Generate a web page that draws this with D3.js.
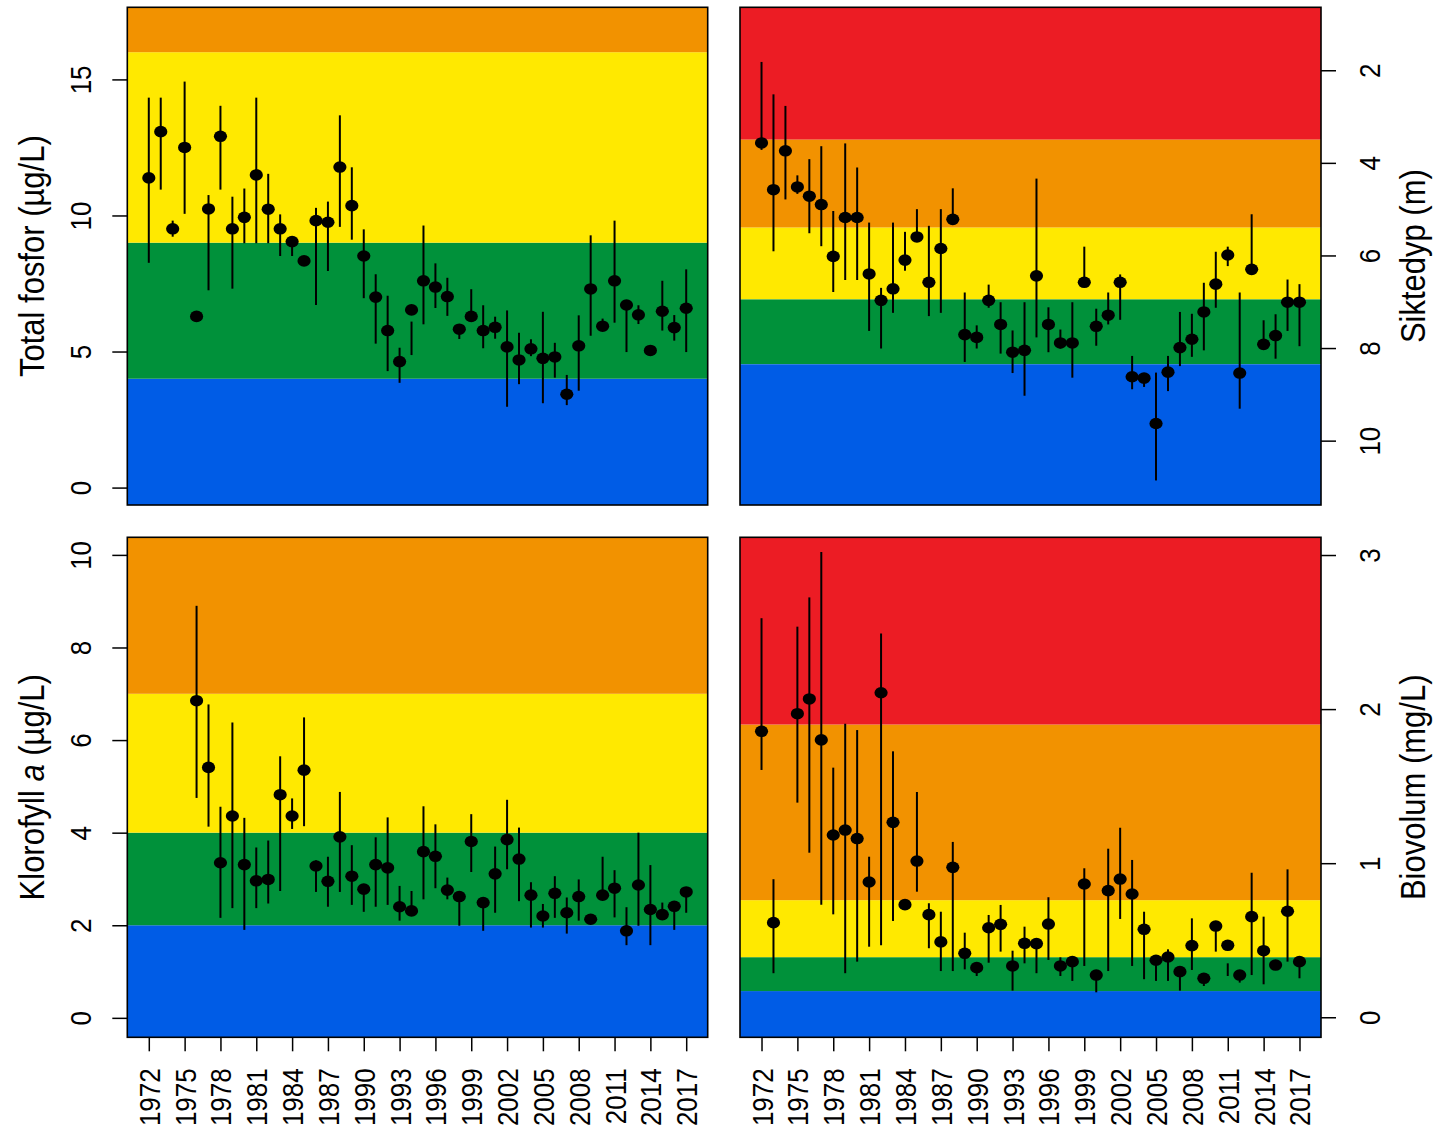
<!DOCTYPE html>
<html>
<head>
<meta charset="utf-8">
<script src="https://cdn.jsdelivr.net/npm/d3@7"></script>
<style>
  body { margin: 0; background: #fff; }
  text { font-family: "Liberation Sans", Arial, sans-serif; fill: #000; }
</style>
</head>
<body>
<svg id="chart" width="1436" height="1128"></svg>
<script>
// years and tick labels
var years = d3.range(1972, 2018);
var yearTicks = d3.range(1972, 2018, 3);

// Total fosfor (ug/L)
var tpMean = [11.38, 13.08, 9.51, 12.5, 6.29, 10.24, 12.91, 9.51, 9.93, 11.49,
  10.23, 9.51, 9.04, 8.33, 9.81, 9.75, 11.78, 10.36, 8.51, 7.0,
  5.77, 4.63, 6.53, 7.6, 7.37, 7.02, 5.82, 6.29, 5.77, 5.89,
  5.17, 4.69, 5.1, 4.75, 4.8, 3.43, 5.21, 7.3, 5.93, 7.6,
  6.71, 6.35, 5.04, 6.48, 5.88, 6.59];
var tpLo = [8.26, 10.95, 9.22, 10.06, null, 7.25, 10.95, 7.31, 8.98, 8.98,
  8.98, 8.51, 8.51, null, 6.71, 7.96, 9.58, 9.11, 6.96, 5.29,
  4.28, 3.85, 4.87, 6.0, 6.6, 6.31, 5.46, 6.1, 5.12, 5.47,
  2.97, 3.8, 4.83, 3.1, 4.04, 3.03, 3.56, 5.58, 5.9, 6.06,
  4.98, 6.01, null, 5.77, 5.4, 4.98];
var tpHi = [14.33, 14.33, 9.81, 14.92, null, 10.75, 14.03, 10.69, 10.99, 14.33,
  11.53, 10.04, 9.1, null, 10.28, 10.51, 13.68, 11.77, 9.49, 7.84,
  7.05, 5.14, 6.1, 9.63, 8.24, 7.71, 5.9, 7.29, 6.7, 6.28,
  6.51, 5.69, 5.45, 6.46, 5.32, 4.14, 6.33, 9.27, 6.21, 9.81,
  6.8, 6.7, null, 7.6, 6.34, 8.02];

// Siktedyp (m)
var siktMean = [3.57, 4.58, 3.74, 4.52, 4.72, 4.9, 6.02, 5.18, 5.18, 6.4,
  6.97, 6.72, 6.1, 5.6, 6.58, 5.85, 5.22, 7.71, 7.77, 6.97,
  7.49, 8.09, 8.05, 6.44, 7.49, 7.89, 7.89, 6.58, 7.53, 7.29,
  6.58, 8.62, 8.65, 9.63, 8.52, 7.99, 7.81, 7.22, 6.62, 5.99,
  8.54, 6.3, 7.92, 7.73, 7.01, 7.01];
var siktLo = [1.82, 2.52, 2.77, 4.27, 3.92, 3.64, 5.04, 3.58, 4.1, 5.29,
  6.7, 5.29, 5.49, 5.0, 5.36, 5.0, 4.55, 6.8, 7.51, 6.63,
  7.01, 7.62, 7.01, 4.34, 7.12, 7.6, 7.01, 5.81, 7.15, 6.8,
  6.41, 8.17, 8.6, 8.53, 8.17, 7.22, 7.26, 6.59, 5.92, 5.81,
  6.8, 5.11, 7.4, 7.27, 6.52, 6.62];
var siktHi = [3.72, 5.91, 4.79, 4.67, 5.52, 5.8, 6.79, 6.53, 6.53, 7.63,
  8.01, 7.24, 6.33, 5.65, 7.31, 7.24, 5.25, 8.3, 8.01, 7.13,
  8.12, 8.54, 9.03, 7.77, 8.09, 8.01, 8.64, 6.65, 7.95, 7.49,
  7.39, 8.89, 8.84, 10.86, 8.93, 8.39, 8.19, 8.05, 7.13, 6.23,
  9.31, 6.35, 8.0, 8.23, 7.63, 7.96];

// Klorofyll a (ug/L)
var chlMean = [null, null, null, null, 6.85, 5.41, 3.35, 4.36, 3.31, 2.96,
  2.99, 4.82, 4.36, 5.35, 3.28, 2.95, 3.91, 3.06, 2.78, 3.31,
  3.24, 2.4, 2.31, 3.59, 3.49, 2.76, 2.62, 3.81, 2.49, 3.11,
  3.85, 3.43, 2.65, 2.2, 2.69, 2.27, 2.62, 2.13, 2.65, 2.8,
  1.88, 2.87, 2.34, 2.23, 2.41, 2.72];
var chlLo = [null, null, null, null, 4.75, 4.13, 2.16, 2.37, 1.9, 2.37,
  2.47, 2.74, 4.08, 4.14, 2.72, 2.4, 2.72, 2.44, 2.29, 2.4,
  2.44, 2.1, 2.25, 2.56, 2.8, 2.56, 1.99, 3.15, 1.88, 2.27,
  3.21, 2.52, 1.95, 1.95, 2.16, 1.82, 2.1, null, 2.6, 2.17,
  1.57, 1.99, 1.57, 2.2, 1.9, 2.27];
var chlHi = [null, null, null, null, 8.9, 6.77, 4.56, 6.38, 4.32, 3.68,
  3.83, 5.65, 4.74, 6.49, 3.4, 3.48, 4.88, 3.73, 2.85, 3.9,
  4.33, 2.85, 2.74, 4.57, 4.18, 3.03, 2.7, 4.4, 2.55, 3.7,
  4.71, 4.11, 2.93, 2.46, 3.06, 2.6, 2.99, null, 3.48, 3.19,
  2.39, 4.0, 3.3, 2.49, 2.45, 2.8];

// Biovolum (mg/L)
var bioMean = [1.856, 0.614, null, 1.97, 2.066, 1.8, 1.183, 1.215, 1.16, 0.878,
  2.106, 1.265, 0.731, 1.014, 0.666, 0.489, 0.973, 0.415, 0.322, 0.581,
  0.603, 0.333, 0.48, 0.478, 0.605, 0.333, 0.361, 0.865, 0.274, 0.822,
  0.897, 0.8, 0.571, 0.37, 0.391, 0.296, 0.465, 0.253, 0.592, 0.467,
  0.274, 0.653, 0.432, 0.339, 0.688, 0.361];
var bioLo = [1.605, 0.286, null, 1.393, 1.068, 0.731, 0.668, 0.286, 0.361, 0.458,
  0.467, 0.625, null, 0.815, 0.448, 0.3, 0.3, 0.311, 0.268, 0.354,
  0.426, 0.173, 0.35, 0.286, 0.372, 0.268, 0.236, 0.333, 0.162, 0.3,
  0.638, 0.333, 0.247, 0.236, 0.236, 0.173, 0.307, 0.203, 0.426, 0.268,
  0.225, 0.274, 0.214, null, 0.361, 0.253];
var bioHi = [2.59, 0.896, null, 2.535, 2.725, 3.02, 1.62, 1.905, 1.864, 1.042,
  2.49, 1.726, null, 1.462, 0.74, 0.685, 1.138, 0.549, 0.34, 0.664,
  0.729, 0.432, 0.588, 0.5, 0.779, 0.389, 0.389, 0.967, 0.28, 1.094,
  1.23, 1.021, 0.685, 0.38, 0.441, 0.3, 0.642, 0.26, 0.6, 0.35,
  0.28, 0.938, 0.653, null, 0.96, 0.37];

// class limits (ascending) for the coloured bands
var tpBreaks = [4, 9, 16];
var siktBreaks = [3.5, 5.4, 6.95, 8.35];
var chlBreaks = [2, 4, 7];
var bioBreaks = [0.17, 0.39, 0.76, 1.9];

var blue = "#005ce6", green = "#00913a", yellow = "#ffe900",
    orange = "#f29200", red = "#ec1c24";

var svg = d3.select("#chart");
var stretch = 1.15;   // the source image is a bit wider than tall

function drawPanel(p) {
  var x = d3.scaleLinear().domain([1970.2, 2018.8]).range([p.left, p.right]);
  var y = d3.scaleLinear().domain(p.domain).range(p.reversed ? [p.top, p.bottom] : [p.bottom, p.top]);
  var g = svg.append("g");

  // coloured bands
  var edges = [d3.min(p.domain)].concat(p.breaks).concat([d3.max(p.domain)]);
  for (var i = 0; i < edges.length - 1; i++) {
    var y0 = y(edges[i]), y1 = y(edges[i + 1]);
    g.append("rect")
      .attr("x", p.left)
      .attr("width", p.right - p.left)
      .attr("y", Math.min(y0, y1))
      .attr("height", Math.abs(y1 - y0))
      .attr("fill", p.colors[i]);
  }

  // error bars
  var rows = years.map(function(yr, i) {
    return {year: yr, mean: p.mean[i], lo: p.lo[i], hi: p.hi[i]};
  });
  g.selectAll(".bar")
    .data(rows.filter(d => d.lo !== null && d.hi !== null))
    .enter()
    .append("line")
    .attr("x1", d => x(d.year))
    .attr("x2", d => x(d.year))
    .attr("y1", d => y(d.lo))
    .attr("y2", d => y(d.hi))
    .attr("stroke", "#000")
    .attr("stroke-width", 2);

  // points
  g.selectAll(".pt")
    .data(rows.filter(d => d.mean !== null))
    .enter()
    .append("ellipse")
    .attr("cx", d => x(d.year))
    .attr("cy", d => y(d.mean))
    .attr("rx", 6.6)
    .attr("ry", 5.8)
    .attr("fill", "#000");

  // frame
  g.append("rect")
    .attr("x", p.left)
    .attr("y", p.top)
    .attr("width", p.right - p.left)
    .attr("height", p.bottom - p.top)
    .attr("fill", "none")
    .attr("stroke", "#000")
    .attr("stroke-width", 1.6);

  // y axis
  var onLeft = p.side === "left";
  var yAxis = (onLeft ? d3.axisLeft(y) : d3.axisRight(y))
    .tickValues(p.ticks)
    .tickFormat(d => String(d))
    .tickSize(15)
    .tickSizeOuter(0);
  var ax = g.append("g")
    .attr("transform", `translate(${onLeft ? p.left : p.right}, 0)`)
    .call(yAxis);
  ax.select(".domain").remove();
  ax.selectAll(".tick line").attr("stroke-width", 1.5);
  ax.selectAll(".tick text")
    .attr("x", 0)
    .attr("dy", null)
    .attr("text-anchor", "middle")
    .attr("font-size", 26)
    .attr("font-family", "Liberation Sans, Arial, sans-serif")
    .attr("transform", `translate(${onLeft ? -36 : 59}, 0) scale(${stretch}, 1) rotate(-90)`);

  // axis title
  var title = g.append("text")
    .attr("font-size", 31)
    .attr("text-anchor", "middle")
    .attr("transform", `translate(${onLeft ? 44 : 1425}, ${(p.top + p.bottom) / 2}) scale(${stretch}, 1) rotate(-90)`);
  p.title.forEach(function(part) {
    title.append("tspan")
      .attr("font-style", part.italic ? "italic" : null)
      .text(part.text);
  });

  // x axis only on the lower panels
  if (p.showX) {
    var xAxis = d3.axisBottom(x)
      .tickValues(yearTicks)
      .tickFormat(d3.format("d"))
      .tickSize(14)
      .tickSizeOuter(0);
    var xa = g.append("g")
      .attr("transform", `translate(0, ${p.bottom})`)
      .call(xAxis);
    xa.select(".domain").remove();
    xa.selectAll(".tick line").attr("stroke-width", 1.5);
    xa.selectAll(".tick text")
      .attr("y", 0)
      .attr("dy", null)
      .attr("text-anchor", "end")
      .attr("font-size", 26)
      .attr("font-family", "Liberation Sans, Arial, sans-serif")
      .attr("transform", `translate(10.5, 31) scale(${stretch}, 1) rotate(-90)`);
  }
}

drawPanel({
  left: 127.3, right: 707.7, top: 7.3, bottom: 505,
  domain: [-0.64, 17.65], ticks: [0, 5, 10, 15],
  breaks: tpBreaks, colors: [blue, green, yellow, orange],
  mean: tpMean, lo: tpLo, hi: tpHi,
  side: "left", title: [{text: "Total fosfor (µg/L)"}], showX: false
});

drawPanel({
  left: 740, right: 1321, top: 7.3, bottom: 505,
  domain: [0.64, 11.39], reversed: true, ticks: [2, 4, 6, 8, 10],
  breaks: siktBreaks, colors: [red, orange, yellow, green, blue],
  mean: siktMean, lo: siktLo, hi: siktHi,
  side: "right", title: [{text: "Siktedyp (m)"}], showX: false
});

drawPanel({
  left: 127.3, right: 707.7, top: 537.3, bottom: 1037.3,
  domain: [-0.42, 10.38], ticks: [0, 2, 4, 6, 8, 10],
  breaks: chlBreaks, colors: [blue, green, yellow, orange],
  mean: chlMean, lo: chlLo, hi: chlHi,
  side: "left", title: [{text: "Klorofyll "}, {text: "a", italic: true}, {text: " (µg/L)"}], showX: true
});

drawPanel({
  left: 740, right: 1321, top: 537.3, bottom: 1037.3,
  domain: [-0.13, 3.115], ticks: [0, 1, 2, 3],
  breaks: bioBreaks, colors: [blue, green, yellow, orange, red],
  mean: bioMean, lo: bioLo, hi: bioHi,
  side: "right", title: [{text: "Biovolum (mg/L)"}], showX: true
});
</script>
</body>
</html>
